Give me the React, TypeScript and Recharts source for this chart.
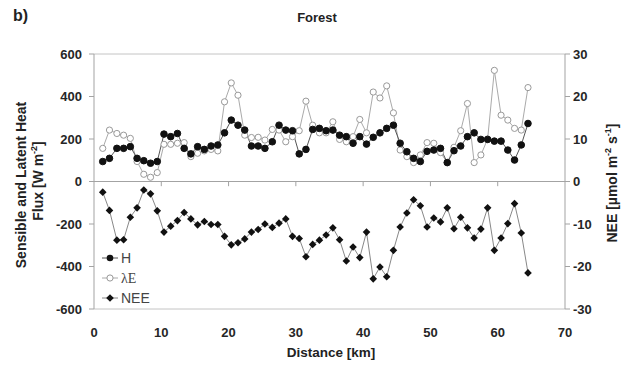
import { LineChart, Line, XAxis, YAxis, ReferenceLine, Legend } from 'recharts'

// values, one point per ~1 km along the transect
const distanceKm = [
    1.3, 2.3, 3.4, 4.4, 5.4, 6.4, 7.4, 8.4, 9.4, 10.4, 11.4, 12.4, 13.4, 14.4, 15.4, 16.4,
    17.4, 18.4, 19.4, 20.4, 21.4, 22.4, 23.4, 24.4, 25.4, 26.5, 27.5, 28.5, 29.5, 30.5, 31.5, 32.5,
    33.5, 34.5, 35.5, 36.5, 37.5, 38.5, 39.5, 40.5, 41.5, 42.5, 43.5, 44.5, 45.5, 46.5, 47.5, 48.5,
    49.5, 50.5, 51.5, 52.5, 53.5, 54.5, 55.5, 56.5, 57.5, 58.5, 59.5, 60.5, 61.5, 62.5, 63.5, 64.5,
]

const sensibleHeat = [
    94, 109, 156, 156, 164, 109, 98, 86, 94, 223, 211, 226, 156, 130, 164, 151,
    167, 172, 229, 289, 265, 242, 167, 167, 156, 187, 265, 242, 239, 130, 151, 245,
    250, 239, 242, 218, 211, 180, 211, 176, 208, 229, 250, 265, 180, 140, 109, 94,
    142, 148, 156, 89, 145, 167, 211, 229, 198, 198, 190, 190, 148, 101, 172, 273,
]

const latentHeat = [
    156, 242, 226, 218, 203, 94, 34, 20, 42, 175, 175, 180, 183, 117, 133, 144,
    151, 144, 375, 464, 406, 218, 207, 208, 195, 245, 242, 187, 211, 239, 378, 265,
    229, 229, 281, 198, 187, 211, 292, 229, 421, 393, 450, 323, 148, 117, 89, 125,
    183, 180, 136, 89, 161, 239, 367, 89, 125, 200, 523, 312, 289, 250, 242, 442,
]

const neeValues = [
    -2.5, -6.8, -13.8, -13.7, -8.4, -6.2, -2.0, -2.9, -6.9, -11.9, -10.5, -9.2, -7.3, -8.8, -10.2, -9.4,
    -10.1, -10.1, -12.9, -14.9, -14.4, -13.5, -11.9, -11.3, -10.0, -10.8, -9.8, -8.8, -12.9, -13.4, -17.7, -14.8,
    -13.8, -12.6, -10.9, -13.7, -18.7, -15.4, -17.9, -11.9, -22.9, -20.1, -22.4, -16.2, -10.7, -7.4, -4.3, -5.7,
    -10.7, -8.6, -9.5, -6.2, -11.1, -8.4, -10.9, -13.3, -11.2, -6.2, -16.2, -13.3, -9.9, -5.2, -12.1, -21.5,
]

const xTicks = [0, 10, 20, 30, 40, 50, 60, 70]
const fluxTicks = [-600, -400, -200, 0, 200, 400, 600]
const neeTicks = [-30, -20, -10, 0, 10, 20, 30]

const rows = distanceKm.map((km, i) => ({
    km,
    h: sensibleHeat[i],
    le: latentHeat[i],
    nee: neeValues[i],
}))

const FONT = "'Liberation Sans', Arial, sans-serif"
const AXIS_GRAY = '#a3a3a3'
const tickStyle = { fontSize: 13, fill: '#262626', fontWeight: 700, fontFamily: FONT }

function DiamondDot(props: any) {
    const { cx, cy, index } = props
    if (cx == null || cy == null) return null
    const s = 3.8
    return (
        <path
            key={`d-${index}`}
            d={`M${cx},${cy - s}L${cx + s},${cy}L${cx},${cy + s}L${cx - s},${cy}Z`}
            fill="#111"
        />
    )
}

function FluxLegend() {
    return (
        <svg width={80} height={64} style={{ display: 'block' }}>
            <g>
                <line x1={4} x2={20} y1={12} y2={12} stroke="#555" />
                <circle cx={12} cy={12} r={3.3} fill="#111" />
                <text x={23} y={17} fontSize={14} fill="#444" fontFamily={FONT}>H</text>
            </g>
            <g>
                <line x1={4} x2={20} y1={32} y2={32} stroke="#aaa" />
                <circle cx={12} cy={32} r={3.1} fill="#fff" stroke="#999" />
                <text x={23} y={37} fontSize={14} fill="#444" fontFamily="'Liberation Serif', serif">λE</text>
            </g>
            <g>
                <line x1={4} x2={20} y1={52} y2={52} stroke="#888" />
                <path d="M12,48.2L15.8,52L12,55.8L8.2,52Z" fill="#111" />
                <text x={23} y={57} fontSize={14} fill="#444" fontFamily={FONT}>NEE</text>
            </g>
        </svg>
    )
}

export default function App() {
    return (
        <div style={{ position: 'absolute', left: 0, top: 0, width: 627, height: 369, background: '#fff' }}>
            <LineChart width={627} height={369} data={rows} margin={{ top: 54, right: 0, bottom: 0, left: 0 }}>
                <XAxis
                    type="number"
                    dataKey="km"
                    domain={[0, 70]}
                    ticks={xTicks}
                    axisLine={false}
                    tickLine={false}
                    tickSize={6}
                    tickMargin={13}
                    height={60}
                    tick={tickStyle}
                />
                <YAxis
                    yAxisId="flux"
                    domain={[-600, 600]}
                    ticks={fluxTicks}
                    width={94}
                    tickSize={5}
                    tickMargin={7}
                    stroke={AXIS_GRAY}
                    tick={tickStyle}
                />
                <YAxis
                    yAxisId="nee"
                    orientation="right"
                    domain={[-30, 30]}
                    ticks={neeTicks}
                    width={62}
                    tickSize={5}
                    tickMargin={3}
                    stroke={AXIS_GRAY}
                    tick={tickStyle}
                />
                <ReferenceLine yAxisId="flux" y={600} stroke="#c4c4c4" />
                <ReferenceLine yAxisId="flux" y={-600} stroke="#c4c4c4" />
                <ReferenceLine yAxisId="flux" y={0} stroke={AXIS_GRAY} />
                {xTicks.slice(1, -1).map((t) => (
                    <ReferenceLine
                        key={t}
                        yAxisId="flux"
                        segment={[{ x: t, y: 0 }, { x: t, y: -22 }]}
                        stroke={AXIS_GRAY}
                    />
                ))}
                <Line
                    yAxisId="flux"
                    dataKey="le"
                    stroke="#aaa"
                    strokeWidth={1}
                    dot={{ r: 3.1, fill: '#fff', stroke: '#999', strokeWidth: 1 }}
                    activeDot={false}
                    isAnimationActive={false}
                />
                <Line
                    yAxisId="flux"
                    dataKey="h"
                    stroke="#555"
                    strokeWidth={1}
                    dot={{ r: 3.3, fill: '#111', stroke: '#111', strokeWidth: 1 }}
                    activeDot={false}
                    isAnimationActive={false}
                />
                <Line
                    yAxisId="nee"
                    dataKey="nee"
                    stroke="#888"
                    strokeWidth={1}
                    dot={<DiamondDot />}
                    activeDot={false}
                    isAnimationActive={false}
                />
                <Legend
                    layout="vertical"
                    align="center"
                    verticalAlign="middle"
                    content={() => <FluxLegend />}
                    wrapperStyle={{ left: 98, top: 246, width: 80, height: 64 }}
                />
            </LineChart>

            <svg
                width={627}
                height={369}
                style={{ position: 'absolute', left: 0, top: 0, pointerEvents: 'none' }}
                fontFamily={FONT}
                fontWeight={700}
                fill="#222"
            >
                <text x={13} y={21} fontSize={16}>b)</text>
                <text x={317} y={22} fontSize={13} textAnchor="middle">Forest</text>
                <text transform="translate(26,185) rotate(-90)" textAnchor="middle" fontSize={14}>
                    Sensible and Latent Heat
                </text>
                <text transform="translate(43,181) rotate(-90)" textAnchor="middle" fontSize={14}>
                    Flux [W m<tspan dy={-6} fontSize={9}>-2</tspan><tspan dy={6}>]</tspan>
                </text>
                <text transform="translate(617,183) rotate(-90)" textAnchor="middle" fontSize={14}>
                    NEE [µmol m<tspan dy={-6} fontSize={9}>-2</tspan>
                    <tspan dy={6}> s</tspan>
                    <tspan dy={-6} fontSize={9}>-1</tspan>
                    <tspan dy={6}>]</tspan>
                </text>
                <text x={331} y={357} textAnchor="middle" fontSize={13.5}>Distance [km]</text>
            </svg>
        </div>
    )
}
